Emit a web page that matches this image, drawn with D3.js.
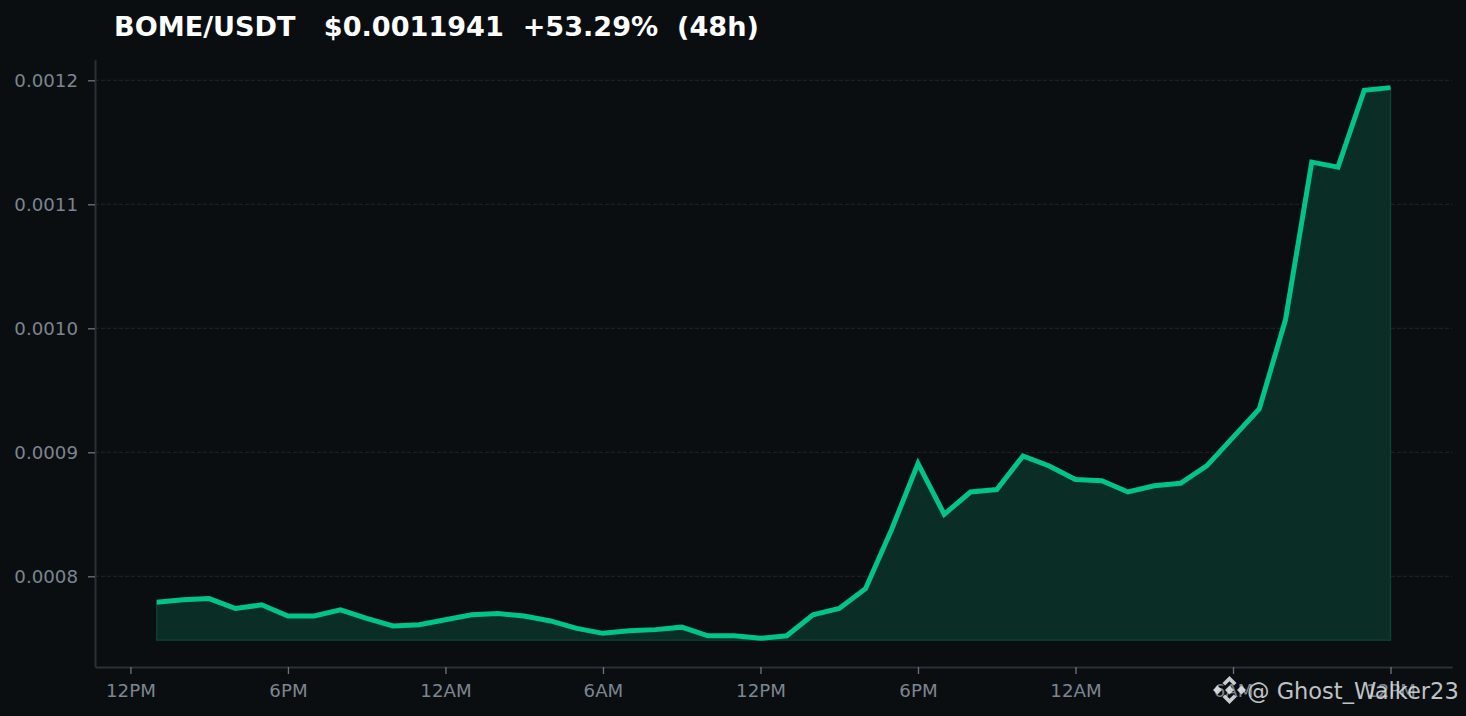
<!DOCTYPE html>
<html><head><meta charset="utf-8">
<script src="https://cdn.jsdelivr.net/npm/d3@7/dist/d3.min.js"></script>
<style>
html,body{margin:0;padding:0;background:#0a0e11;overflow:hidden}
svg{display:block}
text{font-family:"DejaVu Sans",sans-serif}
</style></head><body>
<svg id="c" width="1466" height="716"></svg>
<script>
const hours = [1,2,3,4,5,6,7,8,9,10,11,12,13,14,15,16,17,18,19,20,21,22,23,24,25,26,27,28,29,30,31,32,33,34,35,36,37,38,39,40,41,42,43,44,45,46,47,48];
const prices = [0.000779,0.000781,0.000782,0.000774,0.000777,0.000768,0.000768,0.000773,0.000766,0.000760,0.000761,0.000765,0.000769,0.000770,0.000768,0.000764,0.000758,0.000754,0.000756,0.000757,0.000759,0.000752,0.000752,0.000750,0.000752,0.000769,0.000774,0.000790,0.000838,0.000891,0.000850,0.000868,0.000870,0.000897,0.000889,0.000878,0.000877,0.000868,0.000873,0.000875,0.000889,0.000912,0.000935,0.001007,0.001134,0.001130,0.001192,0.0011941];
const baseValue = 0.0007485;
const xTickHours = [0,6,12,18,24,30,36,42,48];
const xTickLabels = ["12PM","6PM","12AM","6AM","12PM","6PM","12AM","6AM","12PM"];
const yTicks = [0.0008,0.0009,0.0010,0.0011,0.0012];
const titleText = "BOME/USDT   $0.0011941  +53.29%  (48h)";
const watermark = "@ Ghost_Walker23";

const svg = d3.select("#c");
const L=95,R=1452.2,T=60,B=667;
const x = d3.scaleLinear().domain([-1.35,50.35]).range([L,R]);
const y = d3.scaleLinear().domain([0.00072702,0.00121653]).range([B-0.2,T-0.2]);
const pts = hours.map((h,i)=>({h,v:prices[i]}));

svg.append("rect").attr("width",1466).attr("height",716).attr("fill","#0a0e11");

const gy = svg.append("g").attr("transform",`translate(${L},0)`)
  .call(d3.axisLeft(y).tickValues(yTicks).tickFormat(d3.format(".4f")).tickSize(7).tickSizeOuter(0).tickPadding(10));
const gx = svg.append("g").attr("transform",`translate(0,${B})`)
  .call(d3.axisBottom(x).tickValues(xTickHours).tickFormat((d,i)=>xTickLabels[i]).tickSize(7).tickSizeOuter(0).tickPadding(10));
for (const g of [gy,gx]) {
  g.select(".domain").attr("stroke","#2a3038").attr("stroke-width",2);
  g.selectAll(".tick line").attr("stroke","#6b7480").attr("stroke-width",1.3);
  g.selectAll(".tick text").attr("fill","#7d8590").attr("font-size",18.2).attr("font-family","DejaVu Sans");
}

svg.append("g").selectAll("line").data(yTicks).join("line")
  .attr("x1",L).attr("x2",R).attr("y1",d=>y(d)).attr("y2",d=>y(d))
  .attr("stroke","#20262c").attr("stroke-width",1).attr("stroke-dasharray","4 2");

const area = d3.area().x(d=>x(d.h)).y0(y(baseValue)).y1(d=>y(d.v));
svg.append("path").datum(pts).attr("d",area)
  .attr("fill","#0a2d26").attr("stroke","#0c4436").attr("stroke-width",1.3);
const line = d3.line().x(d=>x(d.h)).y(d=>y(d.v));
svg.append("path").datum(pts).attr("d",line)
  .attr("fill","none").attr("stroke","#00c488").attr("stroke-width",5).attr("stroke-linejoin","miter").attr("stroke-linecap","butt");

svg.append("text").attr("x",114).attr("y",35.5).attr("fill","#ffffff")
  .attr("font-size",27.1).attr("font-weight","bold").style("white-space","pre").text(titleText);

// watermark
const wm = svg.append("g").attr("opacity",0.88);
const ic = wm.append("g").attr("transform","translate(1229.5,690)").attr("fill","#e4e7e9");
const diamond = [[0,-14],[7,-7],[4.4,-4.4],[0,-8.8],[-4.4,-4.4],[-7,-7]];
[0,180].forEach(r=>ic.append("polygon").attr("points",diamond.join(" ")).attr("transform",`rotate(${r})`));
[[-12,0],[0,0],[12,0]].forEach(c=>ic.append("rect").attr("x",c[0]-3.2).attr("y",c[1]-3.2).attr("width",6.4).attr("height",6.4).attr("transform",`rotate(45 ${c[0]} ${c[1]})`));
wm.append("text").attr("x",1247).attr("y",699).attr("fill","#d8dcdf").attr("font-size",22.5).text(watermark);
</script>
</body></html>
